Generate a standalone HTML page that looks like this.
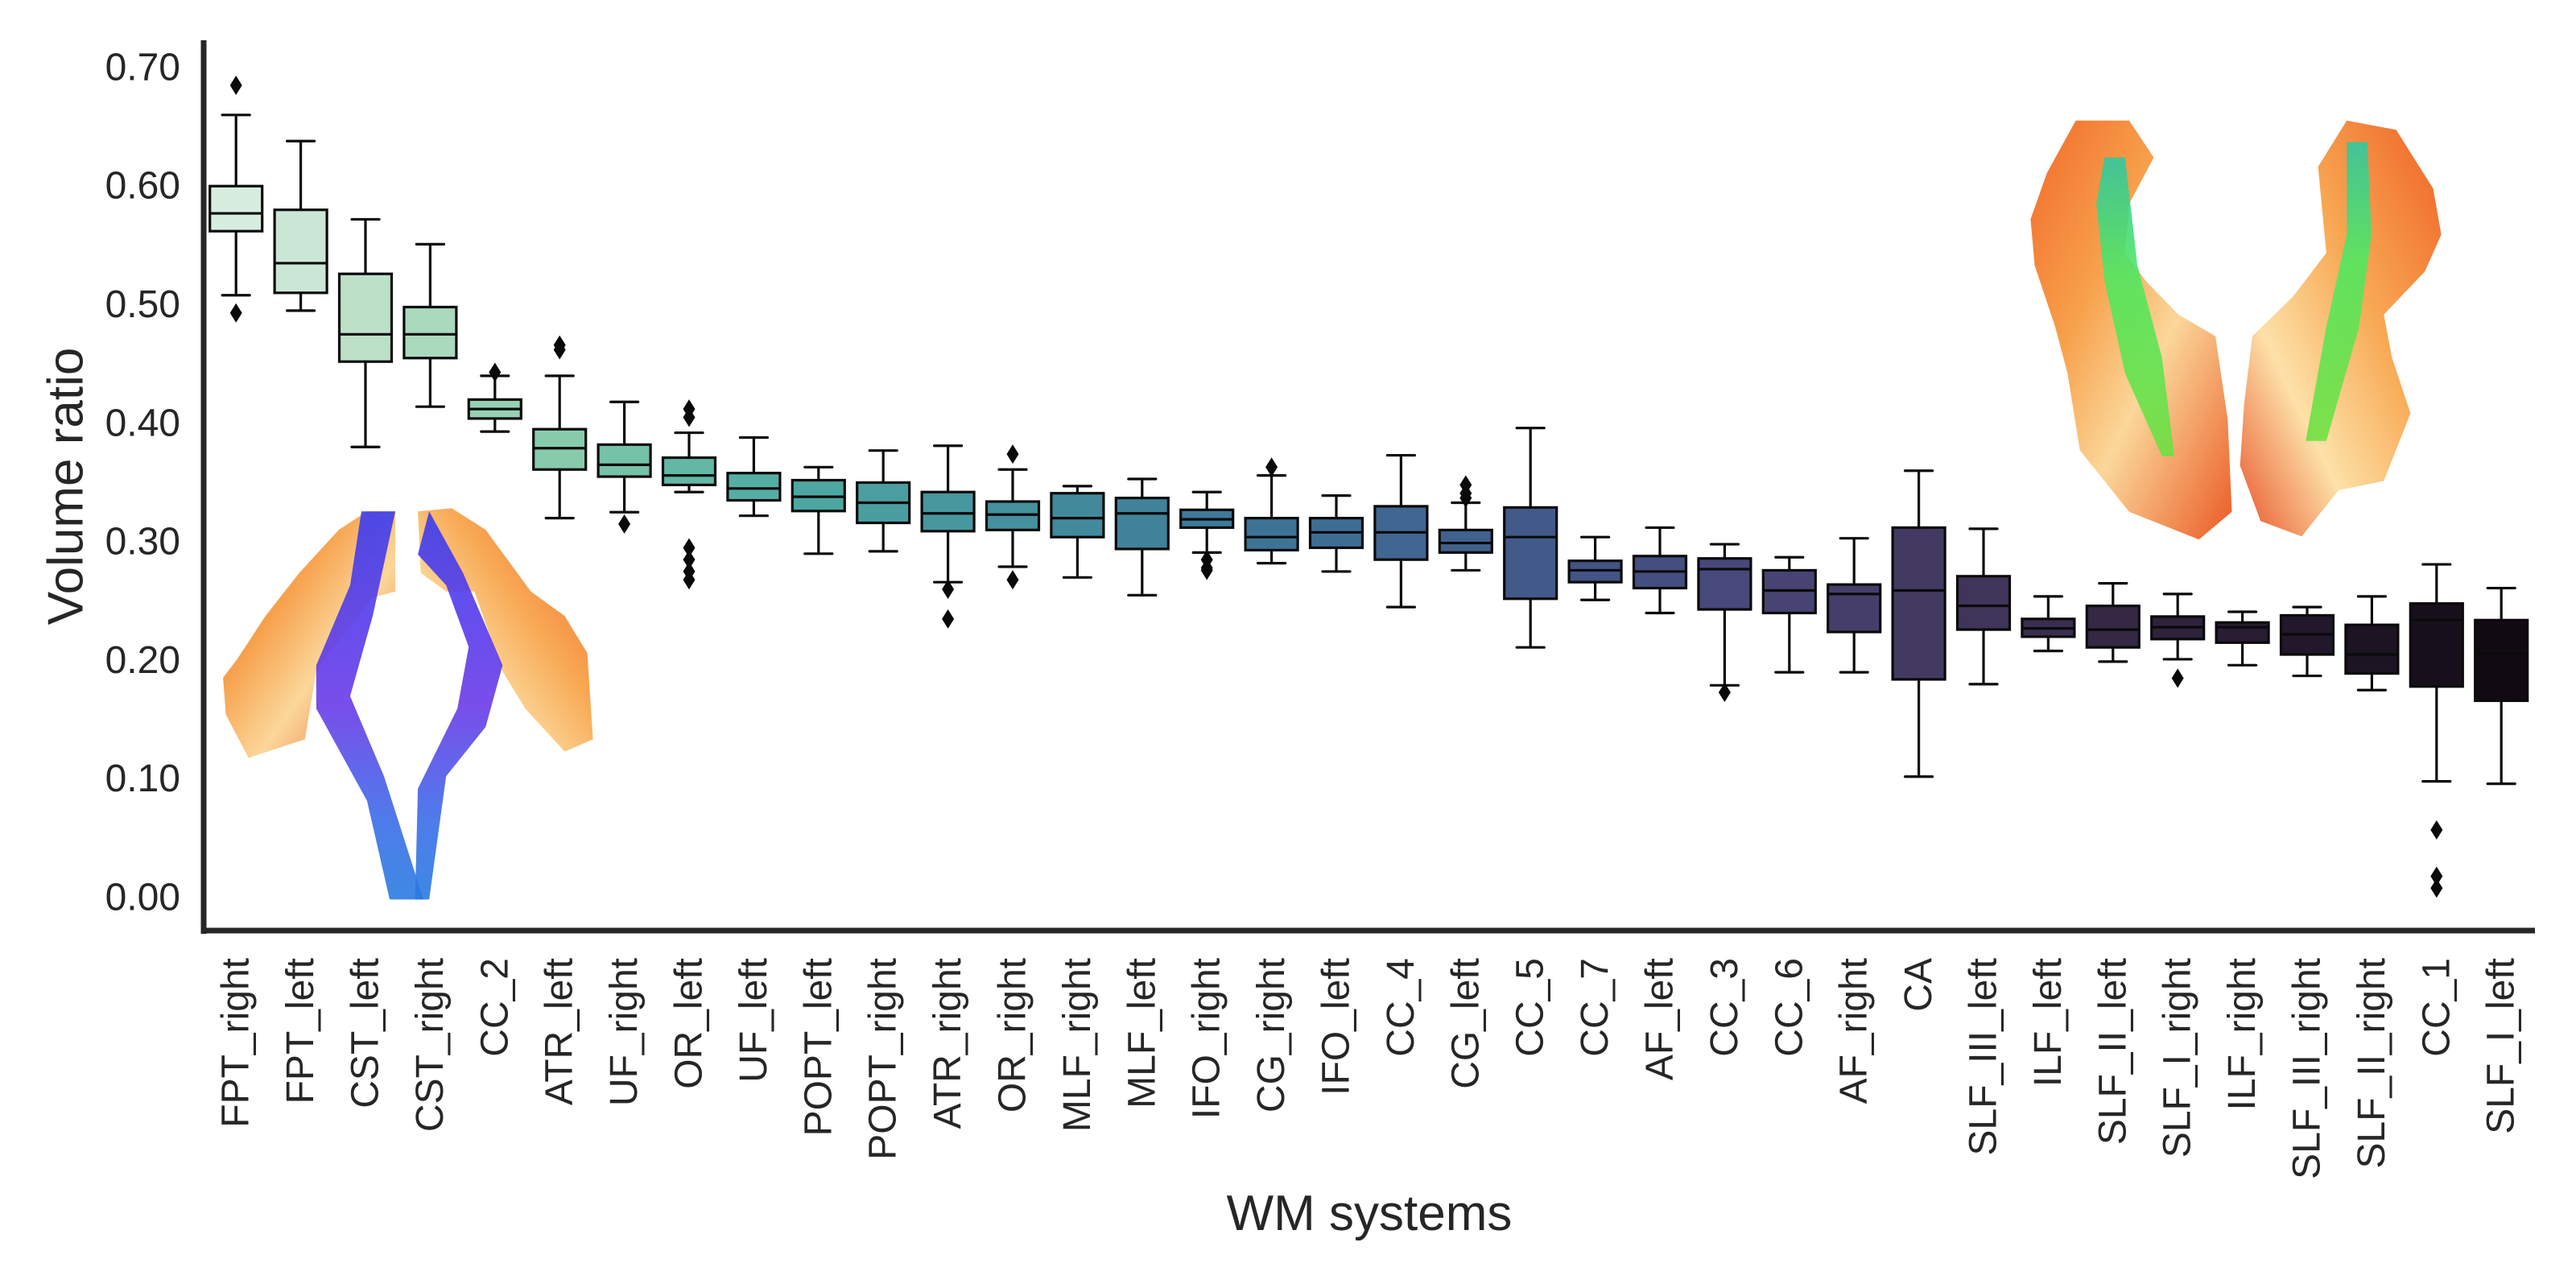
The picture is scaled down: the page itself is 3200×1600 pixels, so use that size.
<!DOCTYPE html>
<html><head><meta charset="utf-8">
<style>
html,body{margin:0;padding:0;background:#fff;}
svg{display:block;font-family:"Liberation Sans",Arial,sans-serif;}
</style></head>
<body>
<svg id="chart" width="3200" height="1600" viewBox="0 0 3200 1600" xmlns="http://www.w3.org/2000/svg">
<defs>
<linearGradient id="org" x1="0" y1="0" x2="1" y2="1">
<stop offset="0" stop-color="#f26a2a"/><stop offset="0.35" stop-color="#f7a14c"/><stop offset="0.6" stop-color="#fbd79a"/><stop offset="1" stop-color="#ea5a24"/></linearGradient>
<linearGradient id="org2" x1="1" y1="0" x2="0" y2="1">
<stop offset="0" stop-color="#ef6126"/><stop offset="0.4" stop-color="#f8a853"/><stop offset="0.7" stop-color="#fde1a8"/><stop offset="1" stop-color="#e8542a"/></linearGradient>
<linearGradient id="blu" x1="0" y1="0" x2="0" y2="1">
<stop offset="0" stop-color="#3a3cf0"/><stop offset="0.5" stop-color="#6a3ae8"/><stop offset="0.8" stop-color="#3a6ee8"/><stop offset="1" stop-color="#2a7be0"/></linearGradient>
<linearGradient id="grn" x1="0" y1="0" x2="0" y2="1">
<stop offset="0" stop-color="#30c8a0"/><stop offset="0.4" stop-color="#50e860"/><stop offset="1" stop-color="#70e040"/></linearGradient>
</defs>

<g id="brain-left" transform="scale(0.7015,0.7653)">
<polygon fill="url(#org)" points="395,1100 420,1070 470,1000 530,930 600,860 650,830 700,830 700,960 660,970 600,1040 560,1090 540,1200 440,1230 400,1160"/>
<polygon fill="url(#org2)" points="740,830 800,825 860,860 940,960 1000,1000 1040,1060 1050,1200 1000,1220 930,1150 890,1090 840,960 790,960 745,930"/>
<polygon fill="url(#blu)" opacity="0.9" points="640,830 700,830 660,1000 620,1130 680,1260 750,1460 690,1460 650,1300 560,1150 560,1080 620,950"/>
<polygon fill="url(#blu)" opacity="0.9" points="760,830 820,930 890,1080 860,1180 790,1260 760,1460 735,1460 740,1280 810,1150 830,1050 790,950 740,900"/>
</g>

<g id="brain-right" transform="translate(2400,100) scale(0.5102,0.3827)">
<polygon fill="url(#org)" points="350,130 480,130 540,250 480,400 470,560 520,650 600,760 690,830 720,1100 730,1400 650,1490 480,1400 360,1200 330,950 300,800 250,600 240,450 280,300"/>
<polygon fill="url(#org2)" points="1010,130 1130,160 1220,350 1240,500 1200,620 1100,760 1120,900 1165,1080 1100,1300 990,1330 900,1480 800,1430 750,1250 760,1050 780,830 880,700 960,560 940,280"/>
<polygon fill="url(#grn)" opacity="0.9" points="420,250 470,250 500,600 560,900 590,1220 560,1220 470,950 420,650 400,400"/>
<polygon fill="url(#grn)" opacity="0.9" points="1010,200 1060,200 1070,500 1040,800 960,1170 910,1170 960,800 1010,500"/>
</g>

<g id="plot"></g>
<line x1="253" y1="50" x2="253" y2="1160" stroke="#262626" stroke-width="7"/>
<line x1="250" y1="1156" x2="3149" y2="1156" stroke="#262626" stroke-width="7"/>
<text x="0" y="0" transform="translate(82,604) rotate(-90)" text-anchor="middle" dominant-baseline="central" font-size="62" fill="#262626">Volume ratio</text>
<text x="1701" y="1528" text-anchor="middle" font-size="62" fill="#262626">WM systems</text>
</svg>
<script>
const categories = ["FPT_right","FPT_left","CST_left","CST_right","CC_2","ATR_left","UF_right","OR_left","UF_left","POPT_left","POPT_right","ATR_right","OR_right","MLF_right","MLF_left","IFO_right","CG_right","IFO_left","CC_4","CG_left","CC_5","CC_7","AF_left","CC_3","CC_6","AF_right","CA","SLF_III_left","ILF_left","SLF_II_left","SLF_I_right","ILF_right","SLF_III_right","SLF_II_right","CC_1","SLF_I_left"];
const whiskerLow = [0.508,0.495,0.380,0.414,0.393,0.320,0.325,0.342,0.322,0.290,0.292,0.266,0.279,0.270,0.255,0.291,0.282,0.275,0.245,0.276,0.211,0.251,0.240,0.179,0.190,0.190,0.102,0.180,0.208,0.199,0.201,0.196,0.187,0.175,0.098,0.096];
const q1 = [0.562,0.510,0.452,0.455,0.404,0.361,0.355,0.348,0.335,0.326,0.316,0.309,0.310,0.304,0.294,0.312,0.293,0.295,0.285,0.291,0.252,0.266,0.261,0.243,0.240,0.224,0.184,0.226,0.220,0.211,0.218,0.215,0.205,0.189,0.178,0.166];
const medians = [0.577,0.535,0.475,0.475,0.412,0.379,0.365,0.356,0.345,0.338,0.333,0.324,0.323,0.320,0.324,0.319,0.304,0.308,0.308,0.299,0.304,0.276,0.275,0.277,0.259,0.256,0.259,0.246,0.227,0.226,0.228,0.228,0.222,0.205,0.234,0.206];
const q3 = [0.600,0.580,0.526,0.498,0.420,0.395,0.382,0.371,0.358,0.352,0.350,0.342,0.334,0.341,0.337,0.327,0.320,0.320,0.330,0.310,0.329,0.284,0.288,0.286,0.276,0.264,0.312,0.271,0.235,0.246,0.237,0.232,0.238,0.230,0.248,0.234];
const whiskerHigh = [0.660,0.638,0.572,0.551,0.440,0.440,0.418,0.392,0.388,0.363,0.377,0.381,0.361,0.347,0.353,0.342,0.356,0.339,0.373,0.333,0.396,0.304,0.312,0.298,0.287,0.303,0.360,0.311,0.254,0.265,0.256,0.241,0.245,0.254,0.281,0.261];
const outliers = [[0.685,0.493],[],[],[],[0.443],[0.462,0.466],[0.315],[0.405,0.412,0.295,0.285,0.275,0.268],[],[],[],[0.260,0.235],[0.374,0.268],[],[],[0.285,0.278,0.276],[0.363],[],[],[0.348,0.341,0.337],[],[],[],[0.173],[],[],[],[],[],[],[0.185],[],[],[],[0.057,0.018,0.008],[]];
const yTicks = [0.0,0.1,0.2,0.3,0.4,0.5,0.6,0.7];
const yTickLabels = ["0.00","0.10","0.20","0.30","0.40","0.50","0.60","0.70"];
const colors = ["#d6ede0","#cbe6d6","#bde0c9","#aad9bd","#97d1b3","#87cbad","#74c2a8","#62b8a5","#55aea3","#4ea6a1","#4a9e9f","#47979e","#45909d","#42899c","#40829a","#3e7b98","#3d7496","#3e6d94","#406791","#41618e","#425a8a","#435485","#454e80","#47497b","#474473","#463e6a","#433a62","#3f3459","#3a2e50","#342845","#2e223c","#281d33","#22172b","#1c1323","#170f1b","#120a13"];

const NS = "http://www.w3.org/2000/svg";
const plot = document.getElementById('plot');
const X0 = 253, STEP = 80.4, BW = 65;
function xPos(i){ return X0 + STEP*(i+0.5); }
function yPos(v){ return 1115 - v*1473; }
function mk(tag, attrs, parent){
  const e = document.createElementNS(NS, tag);
  for (const k in attrs) e.setAttribute(k, attrs[k]);
  (parent||plot).appendChild(e);
  return e;
}
yTicks.forEach((t,i)=>{
  const tx = mk('text',{x:224,y:yPos(t),'text-anchor':'end','dominant-baseline':'central','font-size':48,fill:'#262626'});
  
  
  tx.textContent = yTickLabels[i];
});
categories.forEach((c,i)=>{
  const cx = xPos(i);
  const g = mk('g',{});
  
  
  const sw = {stroke:'#0a0a0a','stroke-width':3.2};
  mk('line',Object.assign({x1:cx,x2:cx,y1:yPos(q3[i]),y2:yPos(whiskerHigh[i])},sw),g);
  mk('line',Object.assign({x1:cx,x2:cx,y1:yPos(q1[i]),y2:yPos(whiskerLow[i])},sw),g);
  mk('line',Object.assign({x1:cx-17,x2:cx+17,y1:yPos(whiskerHigh[i]),y2:yPos(whiskerHigh[i]),'stroke-linecap':'round'},sw),g);
  mk('line',Object.assign({x1:cx-17,x2:cx+17,y1:yPos(whiskerLow[i]),y2:yPos(whiskerLow[i]),'stroke-linecap':'round'},sw),g);
  mk('rect',Object.assign({x:cx-BW/2,y:yPos(q3[i]),width:BW,height:yPos(q1[i])-yPos(q3[i]),fill:colors[i]},sw),g);
  mk('line',Object.assign({x1:cx-BW/2,x2:cx+BW/2,y1:yPos(medians[i]),y2:yPos(medians[i])},sw),g);
  outliers[i].forEach(o=>{
    const y = yPos(o);
    const d = mk('polygon',{points:`${cx},${y-12} ${cx+7.5},${y} ${cx},${y+12} ${cx-7.5},${y}`,fill:'#0a0a0a'},g);
    
    
  });
  const t = mk('text',{x:0,y:0,transform:`translate(${cx},1190) rotate(-90)`,'text-anchor':'end','dominant-baseline':'central','font-size':48,fill:'#262626'});
  
  
  t.textContent = c;
});
</script>
</body></html>
